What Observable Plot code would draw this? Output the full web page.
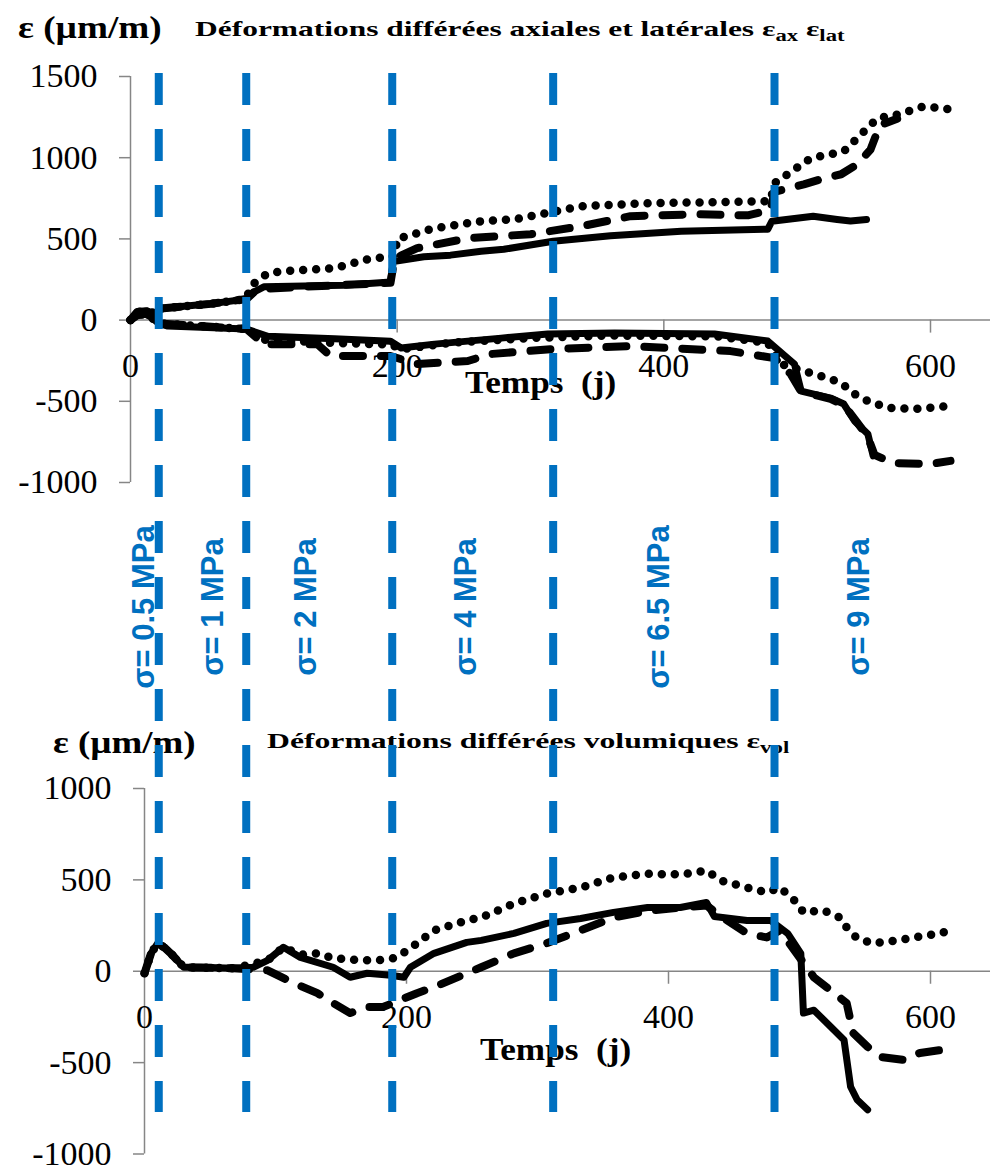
<!DOCTYPE html>
<html>
<head>
<meta charset="utf-8">
<script src="https://cdn.jsdelivr.net/npm/d3@7"></script>
<script src="https://cdn.jsdelivr.net/npm/@observablehq/plot@0.6"></script>
<style>
  html, body { margin: 0; padding: 0; background: white; }
  #fig { position: relative; width: 990px; height: 1167px; overflow: hidden; background: white; }
  #fig > svg, #fig > figure { position: absolute; left: 0; top: 0; margin: 0; }
  .t { position: absolute; font-family: "Liberation Serif", "Times New Roman", serif; font-weight: bold; line-height: 1; white-space: pre; color: #000; transform-origin: 0 0; }
  .t sub { font-size: 0.72em; vertical-align: -0.3em; line-height: 0; }
</style>
</head>
<body>
<div id="fig">
  <div class="t" style="left:18px; top:12px; font-size:31px; transform:scaleX(1.2);">ε (µm/m)</div>
  <div class="t" style="left:195px; top:18px; font-size:22px; transform:scaleX(1.43);">Déformations différées axiales et latérales ε<sub>ax</sub> ε<sub>lat</sub></div>
  <div class="t" style="left:465px; top:366px; font-size:32px; transform:scaleX(1.1);">Temps  (j)</div>
  <div class="t" style="left:53px; top:727px; font-size:31px; transform:scaleX(1.19);">ε (µm/m)</div>
  <div class="t" style="left:267px; top:730px; font-size:22px; transform:scaleX(1.44);">Déformations différées volumiques ε<sub>vol</sub></div>
  <div class="t" style="left:480px; top:1033px; font-size:32px; transform:scaleX(1.1);">Temps  (j)</div>
</div>
<script>
// ---------- data ----------
const stressT = [21.2, 86.8, 196.3, 317, 483];
const stressLabels = ["σ= 0.5 MPa", "σ= 1 MPa", "σ= 2 MPa", "σ= 4 MPa", "σ= 6.5 MPa", "σ= 9 MPa"];
const stressLabelT = [17.25, 69, 138.75, 258.75, 403.5, 553.5];

const xTicks = [0, 200, 400, 600];
const yTicksTop = [-1000, -500, 0, 500, 1000, 1500];
const yTicksBottom = [-1000, -500, 0, 500, 1000];

// top chart: axial (positive) and lateral (negative) strains, [time (j), strain (µm/m)]
const axSolid = [[0,0],[5,50],[12,55],[20,40],[21,70],[40,85],[60,100],[87,130],[92,170],[100,205],[130,210],[160,215],[195,235],[197,360],[220,390],[240,400],[263,424],[280,436],[317,486],[360,520],[413,547],[478,560],[481,609],[512,640],[530,620],[540,610],[552,620]];
const axDashed = [[0,0],[5,50],[12,55],[20,40],[21,70],[60,100],[87,130],[95,190],[130,205],[195,230],[198,380],[215,443],[253,504],[300,529],[338,578],[375,640],[425,652],[463,645],[480,680],[483,790],[505,836],[520,873],[533,898],[545,959],[555,1050],[562,1200],[575,1240]];
const axDotted = [[0,0],[5,50],[12,55],[20,40],[21,70],[60,100],[87,130],[90,209],[103,289],[115,301],[153,320],[178,375],[198,394],[200,500],[228,566],[263,609],[288,621],[338,701],[388,720],[438,726],[480,732],[483,843],[510,996],[535,1039],[548,1144],[560,1242],[576,1267],[595,1316],[615,1298]];
const latSolid = [[0,0],[5,30],[12,40],[21,-20],[28,-37],[87,-55],[103,-100],[153,-115],[195,-130],[203,-172],[228,-148],[278,-111],[313,-86],[363,-80],[438,-86],[478,-129],[498,-271],[503,-437],[525,-480],[535,-517],[543,-621],[553,-701],[557,-836]];
const latDashed = [[0,0],[5,30],[12,40],[21,-20],[87,-55],[100,-148],[140,-148],[150,-221],[195,-221],[215,-271],[253,-252],[270,-209],[317,-178],[375,-160],[450,-191],[483,-234],[495,-330],[503,-440],[525,-485],[535,-522],[545,-630],[553,-720],[558,-830],[572,-880],[600,-886],[615,-867]];
const latDotted = [[0,0],[5,30],[12,40],[21,-20],[87,-55],[100,-120],[150,-140],[195,-150],[203,-180],[240,-140],[300,-110],[360,-95],[440,-100],[478,-140],[488,-271],[510,-326],[525,-363],[533,-387],[543,-455],[553,-498],[568,-541],[588,-547],[615,-529]];

// bottom chart: volumetric strain
const volSolid = [[0,-11],[5,98],[10,153],[15,131],[20,98],[30,22],[43,22],[68,16],[83,22],[94,60],[106,131],[119,76],[144,22],[157,-33],[170,-11],[188,-22],[198,-33],[203,22],[221,98],[246,158],[257,169],[282,207],[307,262],[333,289],[358,322],[384,349],[409,349],[429,376],[435,300],[460,278],[478,278],[491,207],[501,98],[503,-229],[511,-213],[524,-305],[534,-376],[539,-632],[544,-703],[552,-758]];
const volDashed = [[0,-11],[5,98],[10,153],[15,131],[20,98],[30,22],[68,16],[94,5],[114,-65],[132,-120],[144,-174],[157,-229],[170,-196],[182,-196],[195,-158],[208,-120],[221,-87],[246,-11],[257,22],[282,98],[307,153],[333,224],[358,294],[384,330],[409,349],[429,360],[440,300],[460,207],[475,185],[485,224],[511,-33],[536,-174],[541,-338],[552,-414],[562,-469],[579,-485],[592,-447],[608,-431],[615,-392]];
const volDotted = [[0,-11],[5,98],[10,153],[15,131],[20,98],[30,22],[68,16],[94,60],[106,131],[119,90],[132,98],[144,71],[165,60],[178,60],[190,71],[201,115],[221,224],[246,278],[257,294],[282,370],[307,425],[333,458],[358,513],[384,534],[399,529],[414,534],[429,551],[440,496],[460,458],[475,431],[485,458],[498,376],[503,322],[518,333],[531,294],[536,240],[544,180],[556,153],[575,169],[587,185],[608,207],[617,234]];

// ---------- styles ----------
const gray = "#868686";
const blue = "#0070C0";
const serifStack = "'Liberation Serif', 'Times New Roman', serif";
const sansStack = "'Liberation Sans', Arial, sans-serif";
const svgStyle = {background: "transparent", overflow: "visible", color: "black"};

const solid = {stroke: "black", strokeWidth: 7};
const dashed = {stroke: "black", strokeWidth: 8, strokeDasharray: "20,18"};
const dotted = {stroke: "black", strokeWidth: 8.5, strokeDasharray: "0,13"};
const xy = {x: d => d[0], y: d => d[1]};

function axes(yTicks, yMin, yMax) {
  return [
    Plot.ruleY([0], {stroke: gray, strokeWidth: 1.5}),
    Plot.ruleX([0], {y1: yMin, y2: yMax, stroke: gray, strokeWidth: 1.5}),
    Plot.axisY(yTicks, {tickSize: 11, tickPadding: 22, stroke: gray, strokeWidth: 1.5, tickFormat: d => String(d), fontSize: 34, label: null}),
    Plot.ruleX(xTicks.filter(d => d > 0), {x: d => d, y1: 0, y2: 0, insetBottom: -13, stroke: gray, strokeWidth: 1.5}),
    Plot.text(xTicks, {x: d => d, y: 0, text: d => String(d), dy: 46, fontSize: 34, fill: "black"})
  ];
}

function setFont(svg, family, weight) {
  svg.querySelectorAll("text").forEach(t => {
    t.style.fontFamily = family;
    if (weight) t.style.fontWeight = weight;
    t.style.fontVariant = "normal";
  });
}

const fig = document.getElementById("fig");

const topChart = Plot.plot({
  width: 990, height: 1167,
  marginLeft: 130, marginRight: 0, marginTop: 76, marginBottom: 685,
  x: {domain: [0, 645], axis: null},
  y: {domain: [-1000, 1500], axis: null},
  style: svgStyle,
  marks: [
    ...axes(yTicksTop, -1000, 1500),
    Plot.line(axSolid, {...xy, ...solid}),
    Plot.line(latSolid, {...xy, ...solid}),
    Plot.line(axDashed, {...xy, ...dashed}),
    Plot.line(latDashed, {...xy, ...dashed}),
    Plot.line(axDotted, {...xy, ...dotted}),
    Plot.line(latDotted, {...xy, ...dotted})
  ]
});
setFont(topChart, serifStack);
fig.appendChild(topChart);

const bottomChart = Plot.plot({
  width: 990, height: 1167,
  marginLeft: 144, marginRight: 0, marginTop: 788, marginBottom: 13.5,
  x: {domain: [0, 645.8], axis: null},
  y: {domain: [-1000, 1000], axis: null},
  style: svgStyle,
  marks: [
    ...axes(yTicksBottom, -1000, 1000),
    Plot.line(volSolid, {...xy, ...solid}),
    Plot.line(volDashed, {...xy, ...dashed}),
    Plot.line(volDotted, {...xy, ...dotted})
  ]
});
setFont(bottomChart, serifStack);
fig.appendChild(bottomChart);

const overlayChart = Plot.plot({
  width: 990, height: 1167,
  marginLeft: 130, marginRight: 0, marginTop: 73, marginBottom: 55,
  x: {domain: [0, 645], axis: null},
  y: {domain: [0, 1], axis: null, reverse: true},
  style: svgStyle,
  marks: [
    Plot.ruleX(stressT, {x: d => d, y1: 0, y2: 1, stroke: blue, strokeWidth: 8, strokeDasharray: "32,24", strokeLinecap: "butt"}),
    Plot.text(stressLabels, {x: (d, i) => stressLabelT[i], text: d => d, frameAnchor: "middle", dy: 14, rotate: -90, lineAnchor: "bottom", textAnchor: "middle", fill: blue, fontWeight: "bold", fontSize: 31})
  ]
});
setFont(overlayChart, sansStack, "bold");
fig.appendChild(overlayChart);
</script>
</body>
</html>
